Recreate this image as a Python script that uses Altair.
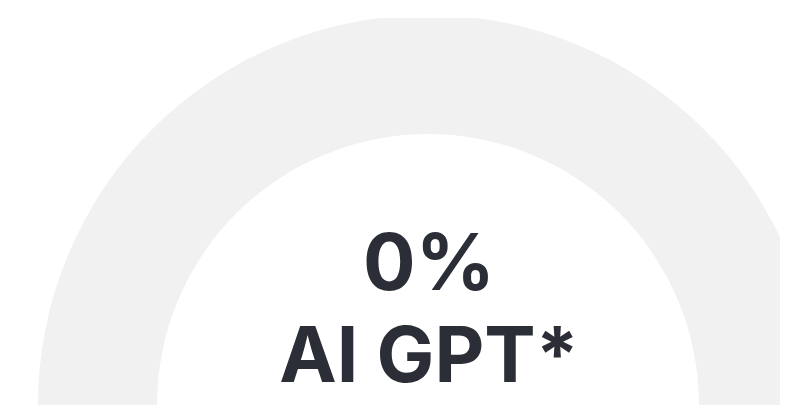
import math
import altair as alt
import pandas as pd

# Gauge data
segments = ["AI GPT*", "Remaining"]
shares = [0, 100]
segment_colors = ["#3b82f6", "#f1f1f1"]
percent_text = ["0%"]
name_text = ["AI GPT*"]

gauge_df = pd.DataFrame({"segment": segments, "share": shares, "order": [0, 1]})
pct_df = pd.DataFrame({"label": percent_text})
name_df = pd.DataFrame({"label": name_text})

CX, CY = 420, 387

arc = alt.Chart(gauge_df).mark_arc(
    innerRadius=271, outerRadius=390, clip=True
).encode(
    theta=alt.Theta(
        "share:Q",
        stack=True,
        scale=alt.Scale(domain=[0, 100], range=[-math.pi / 2, math.pi / 2]),
    ),
    color=alt.Color(
        "segment:N",
        scale=alt.Scale(domain=segments, range=segment_colors),
        legend=None,
    ),
    order=alt.Order("order:Q"),
    x=alt.value(CX),
    y=alt.value(CY),
)

pct = alt.Chart(pct_df).mark_text(
    font="Inter", fontWeight="bold", fontSize=78, color="#2b2e36",
    align="center", baseline="alphabetic",
).encode(text="label:N", x=alt.value(421), y=alt.value(272))

name = alt.Chart(name_df).mark_text(
    font="Inter", fontWeight="bold", fontSize=77, color="#2b2e36",
    align="center", baseline="alphabetic",
).encode(text="label:N", x=alt.value(421), y=alt.value(364))

chart = alt.layer(arc, pct, name).properties(
    width=772,
    height=387,
    padding={"top": 10, "left": 0, "right": 0, "bottom": 0},
    autosize=alt.AutoSizeParams(type="none"),
).configure_view(stroke=None)

chart.save("out.html", embed_options={"renderer": "svg", "actions": False})
